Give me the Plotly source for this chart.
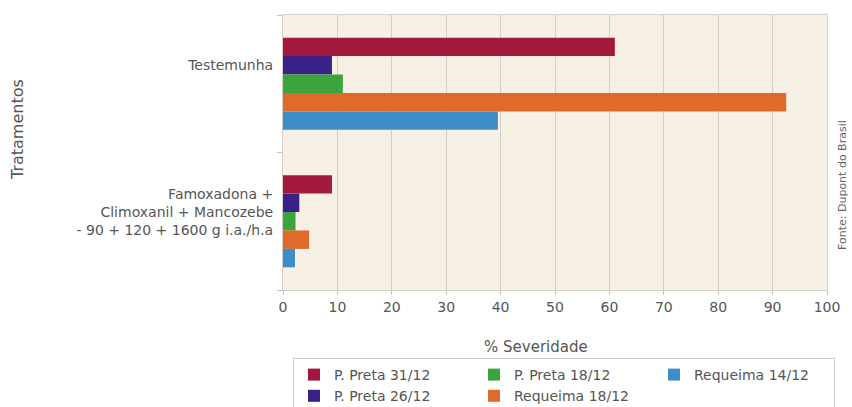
import plotly.graph_objects as go

# Treatments (y categories)
tratamentos = [
    "Testemunha",
    "Famoxadona + Climoxanil + Mancozebe - 90 + 120 + 1600 g i.a./h.a",
]
tick_labels = [
    "Testemunha<br> <br> ",
    "Famoxadona +<br>Climoxanil + Mancozebe<br>- 90 + 120 + 1600 g i.a./h.a<br> ",
]

# Severity (%) per evaluation
p_preta_31_12 = [61, 9]
p_preta_26_12 = [9, 3]
p_preta_18_12 = [11, 2.3]
requeima_18_12 = [92.5, 4.8]
requeima_14_12 = [39.5, 2.2]

series = [
    ("P. Preta 31/12", p_preta_31_12, "#a3183d", 1),
    ("P. Preta 26/12", p_preta_26_12, "#3b2088", 4),
    ("P. Preta 18/12", p_preta_18_12, "#3aa53c", 2),
    ("Requeima 18/12", requeima_18_12, "#de6a2b", 5),
    ("Requeima 14/12", requeima_14_12, "#3d8ec8", 3),
]

x_ticks = list(range(0, 101, 10))

fig = go.Figure()
for name, vals, color, rank in series:
    fig.add_trace(go.Bar(
        y=tratamentos, x=vals, name=name, orientation="h",
        marker=dict(color=color, line=dict(width=0)),
        legendrank=rank,
    ))

font_family = "DejaVu Sans"
text_color = "#555555"

fig.update_layout(
    width=852, height=407,
    margin=dict(l=283, r=25, t=15, b=117),
    paper_bgcolor="white",
    plot_bgcolor="#f6f0e5",
    barmode="group",
    bargap=0.33,
    bargroupgap=0.0,
    font=dict(family=font_family, size=14, color=text_color),
    showlegend=True,
    legend=dict(
        orientation="h",
        xref="container", yref="container",
        x=293 / 852, xanchor="left",
        y=1 - 358 / 407, yanchor="top",
        entrywidth=135, entrywidthmode="pixels",
        bordercolor="#cccccc", borderwidth=1,
        bgcolor="white",
        font=dict(size=14, color=text_color),
        traceorder="normal",
        tracegroupgap=0,
    ),
    xaxis=dict(
        range=[0, 100],
        tickvals=x_ticks,
        ticks="outside", ticklen=4, tickcolor="#c8c3ba",
        showgrid=True, gridcolor="#d4cfc6", gridwidth=1,
        zeroline=False,
        showline=True, linecolor="#d4cfc6", mirror=True,
        tickfont=dict(size=14, color=text_color),
    ),
    yaxis=dict(
        autorange="reversed",
        tickmode="array",
        tickvals=tratamentos,
        ticktext=tick_labels,
        tickson="boundaries",
        ticks="outside", ticklen=5, tickcolor="#c8c3ba",
        ticklabelstandoff=6,
        showgrid=False,
        showline=True, linecolor="#d4cfc6", mirror=True,
        tickfont=dict(size=14, color=text_color),
    ),
    annotations=[
        dict(
            text="% Severidade",
            xref="paper", yref="paper", x=0.465, y=-0.207,
            xanchor="center", yanchor="middle", showarrow=False,
            font=dict(size=15, color=text_color),
        ),
        dict(
            text="Tratamentos", textangle=-90,
            xref="paper", yref="paper", x=-0.487, y=0.582,
            xanchor="center", yanchor="middle", showarrow=False,
            font=dict(size=16, color=text_color),
        ),
        dict(
            text="Fonte: Dupont do Brasil", textangle=-90,
            xref="paper", yref="paper", x=(843 - 283) / 544, y=0.382,
            xanchor="center", yanchor="middle", showarrow=False,
            font=dict(size=11, color="#666666"),
        ),
    ],
)

fig.write_html("out.html")
